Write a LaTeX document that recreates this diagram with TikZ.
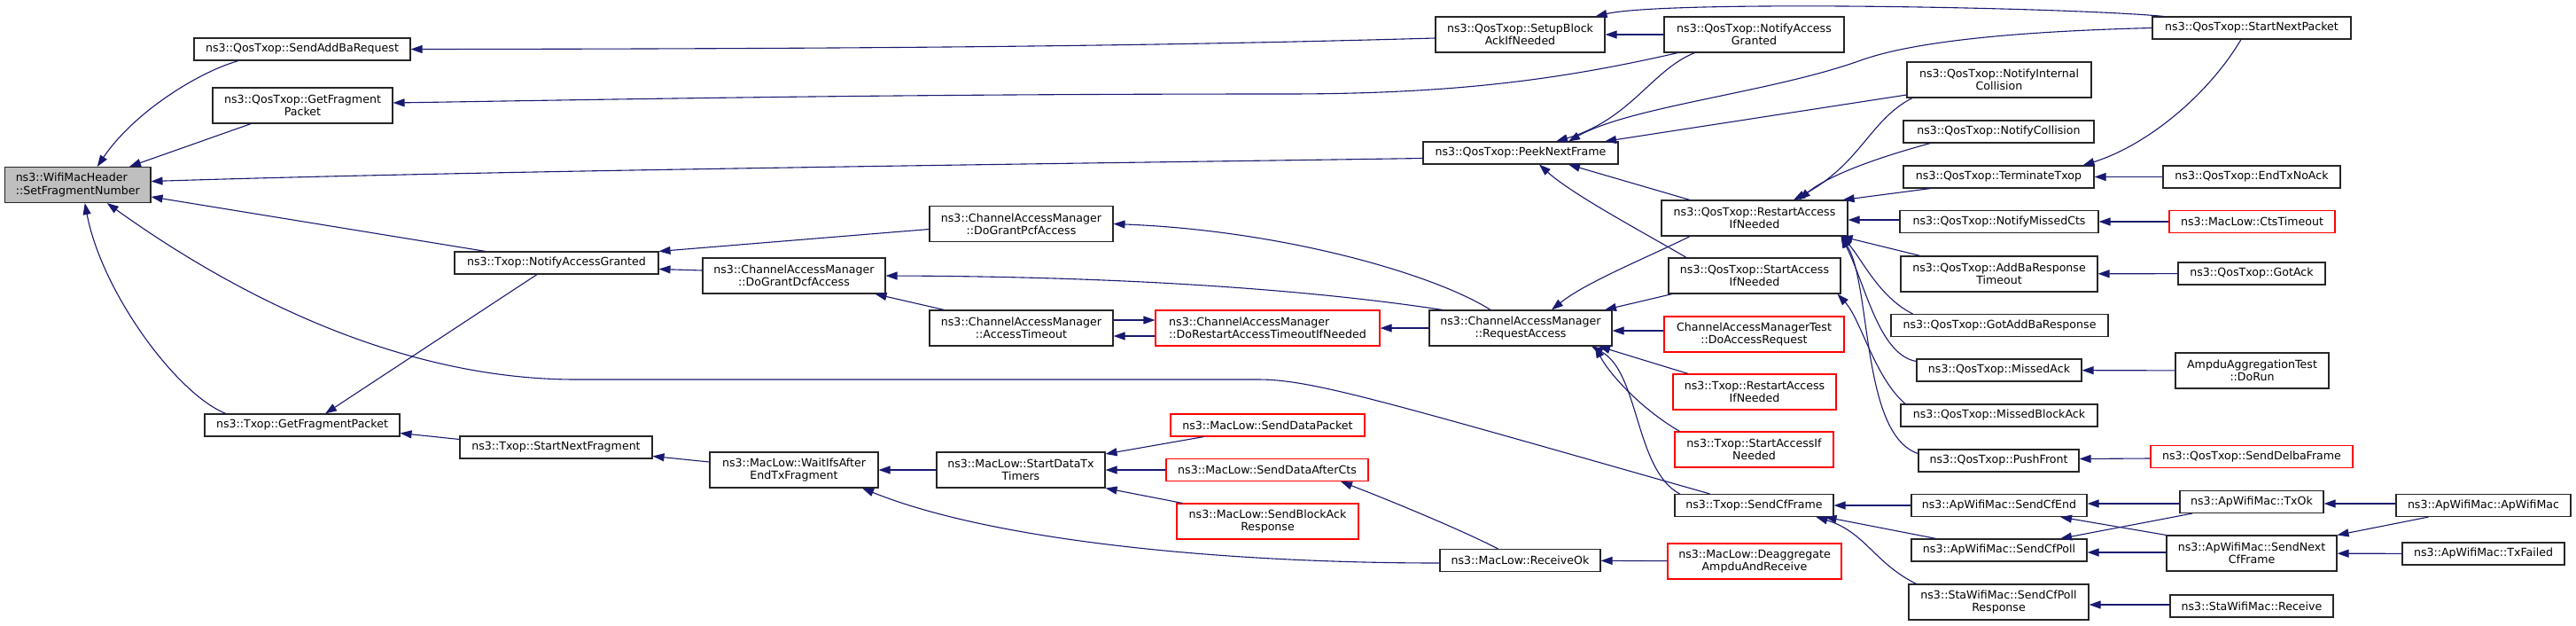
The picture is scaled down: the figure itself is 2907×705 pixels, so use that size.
\documentclass[tikz,border=0pt]{standalone}
\usepackage{fontspec}
\setmainfont{DejaVu Sans}
\usepackage{tikz}
\usetikzlibrary{arrows.meta,positioning}
\definecolor{edgeblue}{HTML}{191970}
\definecolor{rootgray}{HTML}{BFBFBF}
\tikzset{
  fnbox/.style={ draw=black!85, line width=1.1pt, fill=white, align=center, inner sep=0pt, minimum width=#1pt, font=\fontsize{12.6}{14.4}\selectfont }
}
\tikzset{
  fnred/.style={ fnbox=#1, draw=red }
}
\tikzset{
  fnroot/.style={ fnbox=#1, fill=rootgray, align=left }
}
\tikzset{
  oneline/.style={ minimum height=25pt },
  twoline/.style={ minimum height=40pt }
}
\tikzset{
  callarrow/.style={ draw=edgeblue, line width=1.1pt, -{Triangle[length=13pt, width=9pt]} }
}

\begin{document}
\begin{tikzpicture}[y=-1pt, x=1pt]
      \useasboundingbox (0, 0) rectangle (2907, 705);
      \node[fnroot=164.5, twoline] (sfn) at (87.75, 208.5) {ns3::WifiMacHeader\\::SetFragmentNumber};
      \node[fnbox=244, oneline] (sabr) at (341, 55.5) {ns3::QosTxop::SendAddBaRequest};
      \node[fnbox=203, twoline] (qgfp) at (341.5, 119) {ns3::QosTxop::GetFragment\\Packet};
      \node[fnbox=230, oneline] (tnag) at (628, 296.5) {ns3::Txop::NotifyAccessGranted};
      \node[fnbox=220, oneline] (tgfp) at (341, 479.5) {ns3::Txop::GetFragmentPacket};
      \node[fnbox=217, oneline] (tsnf) at (627.5, 504.5) {ns3::Txop::StartNextFragment};
      \node[fnbox=206, twoline] (dgdcf) at (896, 311) {ns3::ChannelAccessManager\\::DoGrantDcfAccess};
      \node[fnbox=207, twoline] (dgpcf) at (1152.5, 252.5) {ns3::ChannelAccessManager\\::DoGrantPcfAccess};
      \node[fnbox=207, twoline] (acto) at (1152.5, 370) {ns3::ChannelAccessManager\\::AccessTimeout};
      \node[fnred=253, twoline, align=left] (drat) at (1430.5, 370) {ns3::ChannelAccessManager\\::DoRestartAccessTimeoutIfNeeded};
      \node[fnbox=190, twoline] (wifs) at (896, 530) {ns3::MacLow::WaitIfsAfter\\EndTxFragment};
      \node[fnbox=190, twoline] (sdtt) at (1152, 530) {ns3::MacLow::StartDataTx\\Timers};
      \node[fnred=219, oneline] (sdp) at (1430.5, 479.5) {ns3::MacLow::SendDataPacket};
      \node[fnred=228, oneline] (sdac) at (1430, 530) {ns3::MacLow::SendDataAfterCts};
      \node[fnred=205, twoline] (sbar) at (1430.5, 588) {ns3::MacLow::SendBlockAck\\Response};
      \node[fnbox=191, twoline] (sbai) at (1715.5, 39) {ns3::QosTxop::SetupBlock\\AckIfNeeded};
      \node[fnbox=203, twoline] (qnag) at (1979.5, 39) {ns3::QosTxop::NotifyAccess\\Granted};
      \node[fnbox=220, oneline] (pnf) at (1716, 172.5) {ns3::QosTxop::PeekNextFrame};
      \node[fnbox=206, twoline] (rqa) at (1716, 370) {ns3::ChannelAccessManager\\::RequestAccess};
      \node[fnbox=181, oneline] (rcvok) at (1715.5, 632) {ns3::MacLow::ReceiveOk};
      \node[fnbox=210, twoline] (qraim) at (1980, 246) {ns3::QosTxop::RestartAccess\\IfNeeded};
      \node[fnbox=194, twoline] (qsaim) at (1980, 311) {ns3::QosTxop::StartAccess\\IfNeeded};
      \node[fnred=203, twoline] (dar) at (1979.5, 377) {ChannelAccessManagerTest\\::DoAccessRequest};
      \node[fnred=184, twoline] (traim) at (1980, 442) {ns3::Txop::RestartAccess\\IfNeeded};
      \node[fnred=179, twoline] (tsaim) at (1979.5, 507) {ns3::Txop::StartAccessIf\\Needed};
      \node[fnbox=179, oneline] (scf) at (1979.5, 570) {ns3::Txop::SendCfFrame};
      \node[fnred=196, twoline] (deag) at (1980, 633) {ns3::MacLow::Deaggregate\\AmpduAndReceive};
      \node[fnbox=208, twoline] (nic) at (2256, 90) {ns3::QosTxop::NotifyInternal\\Collision};
      \node[fnbox=215, oneline] (ncol) at (2255.5, 148.5) {ns3::QosTxop::NotifyCollision};
      \node[fnbox=215, oneline] (term) at (2255.5, 199.5) {ns3::QosTxop::TerminateTxop};
      \node[fnbox=224, oneline] (nmc) at (2256, 250) {ns3::QosTxop::NotifyMissedCts};
      \node[fnbox=222, twoline] (abrt) at (2256, 309) {ns3::QosTxop::AddBaResponse\\Timeout};
      \node[fnbox=245, oneline] (gabr) at (2256.5, 367) {ns3::QosTxop::GotAddBaResponse};
      \node[fnbox=186, oneline] (mack) at (2256, 417.5) {ns3::QosTxop::MissedAck};
      \node[fnbox=222, oneline] (mback) at (2256, 468.5) {ns3::QosTxop::MissedBlockAck};
      \node[fnbox=181, oneline] (pushf) at (2255.5, 519.5) {ns3::QosTxop::PushFront};
      \node[fnbox=198, oneline] (scfe) at (2256, 570) {ns3::ApWifiMac::SendCfEnd};
      \node[fnbox=198, oneline] (scfp) at (2256, 620.5) {ns3::ApWifiMac::SendCfPoll};
      \node[fnbox=203, twoline] (scfpr) at (2255.5, 679) {ns3::StaWifiMac::SendCfPoll\\Response};
      \node[fnbox=224, oneline] (snp) at (2541, 31.5) {ns3::QosTxop::StartNextPacket};
      \node[fnbox=200, oneline] (etna) at (2541, 199.5) {ns3::QosTxop::EndTxNoAck};
      \node[fnred=187, oneline] (ctst) at (2541.5, 250) {ns3::MacLow::CtsTimeout};
      \node[fnbox=166, oneline] (gack) at (2541, 308.5) {ns3::QosTxop::GotAck};
      \node[fnbox=173, twoline] (drun) at (2541.5, 418) {AmpduAggregationTest\\::DoRun};
      \node[fnred=228, oneline] (sdelba) at (2541, 515) {ns3::QosTxop::SendDelbaFrame};
      \node[fnbox=162, oneline] (txok) at (2541, 566) {ns3::ApWifiMac::TxOk};
      \node[fnbox=192, twoline] (sncf) at (2541, 624) {ns3::ApWifiMac::SendNext\\CfFrame};
      \node[fnbox=184, oneline] (starcv) at (2541, 683.5) {ns3::StaWifiMac::Receive};
      \node[fnbox=197, oneline] (apwm) at (2802.5, 570) {ns3::ApWifiMac::ApWifiMac};
      \node[fnbox=183, oneline] (txf) at (2802.5, 624.5) {ns3::ApWifiMac::TxFailed};
      % callers of SetFragmentNumber
      \draw[callarrow] ([xshift=-72pt]sabr.south) .. controls (222, 82) and (150, 128) .. ([xshift=22pt]sfn.north);
      \draw[callarrow] (qgfp) -- (sfn);
      \draw[callarrow] ([yshift=-6pt]pnf.west) .. controls (1250, 184) and (560, 192) .. ([yshift=4pt]sfn.east);
      \draw[callarrow] (tnag) -- (sfn);
      \draw[callarrow] ([xshift=-86pt]tgfp.north) .. controls (200, 445) and (115, 330) .. ([xshift=8pt]sfn.south);
      \draw[callarrow] ([xshift=-50pt]scf.north) .. controls (1560, 452) and (1480, 428) .. (1420, 428) -- (650, 428) .. controls (420, 428) and (220, 300) .. ([xshift=33pt]sfn.south);
      \draw[callarrow] ([yshift=-4pt]sbai.west) .. controls (1300, 52) and (1000, 55) .. (sabr.east);
      \draw[callarrow] ([xshift=-86pt]qnag.south) .. controls (1760, 90) and (1640, 106) .. (1450, 106) .. controls (1000, 106) and (700, 112) .. ([yshift=3pt]qgfp.east);
      \draw[callarrow] (qnag) -- (sbai);
      \draw[callarrow] ([xshift=-99pt]snp.north) .. controls (2330, 8) and (1880, 0) .. ([xshift=85pt]sbai.north);
      % PeekNextFrame
      \draw[callarrow] ([xshift=-67pt]qnag.south) .. controls (1865, 78) and (1840, 135) .. ([xshift=40pt]pnf.north);
      \draw[callarrow] (snp.west) .. controls (2250, 36) and (2150, 50) .. (2100, 68) .. controls (2000, 104) and (1840, 120) .. ([xshift=54pt]pnf.north);
      \draw[callarrow] ([yshift=-17pt]nic.west) -- ([xshift=95pt]pnf.north);
      \draw[callarrow] ([xshift=-73pt]qraim.north) -- ([xshift=54pt]pnf.south);
      \draw[callarrow] ([xshift=-77pt]qsaim.north) .. controls (1860, 265) and (1775, 220) .. ([xshift=21pt]pnf.south);
      % RequestAccess
      \draw[callarrow] ([xshift=-73pt]qraim.south) .. controls (1860, 290) and (1790, 318) .. ([xshift=35pt]rqa.north);
      \draw[callarrow] ([xshift=-93pt]qsaim.south) -- ([xshift=95pt]rqa.north);
      \draw[callarrow] ([yshift=4pt]dar.west) -- ([yshift=-3pt]rqa.east);
      \draw[callarrow] ([xshift=-75pt]traim.north) -- ([xshift=88pt]rqa.south);
      \draw[callarrow] ([xshift=-84pt]tsaim.north) .. controls (1850, 460) and (1815, 420) .. ([xshift=84pt]rqa.south);
      \draw[callarrow] ([xshift=-84pt]scf.north) .. controls (1845, 530) and (1850, 420) .. ([xshift=80pt]rqa.south);
      % RestartAccessIfNeeded
      \draw[callarrow] ([xshift=-98pt]nic.south) .. controls (2110, 135) and (2100, 185) .. ([xshift=44pt]qraim.north);
      \draw[callarrow] ([xshift=-77pt]ncol.south) .. controls (2110, 180) and (2060, 200) .. ([xshift=50pt]qraim.north);
      \draw[callarrow] ([xshift=-77pt]term.south) -- ([xshift=-6pt]qraim.north east);
      \draw[callarrow] ([yshift=2pt]nmc.west) -- ([yshift=-2pt]qraim.east);
      \draw[callarrow] ([xshift=-89pt]abrt.north) -- ([xshift=-8pt]qraim.south east);
      \draw[callarrow] ([xshift=-98pt]gabr.north) .. controls (2120, 335) and (2100, 290) .. ([xshift=-8pt]qraim.south east);
      \draw[callarrow] ([yshift=10pt]mack.west) .. controls (2120, 400) and (2105, 320) .. ([xshift=-8pt]qraim.south east);
      \draw[callarrow] ([yshift=8pt]pushf.west) .. controls (2100, 490) and (2112, 320) .. ([xshift=-8pt]qraim.south east);
      \draw[callarrow] ([xshift=-106pt]mback.north) .. controls (2115, 425) and (2100, 360) .. ([xshift=-4pt]qsaim.south east);
      \draw[callarrow] ([xshift=-12pt]snp.south) .. controls (2490, 110) and (2420, 165) .. ([xshift=95pt]term.north);
      \draw[callarrow] (etna) -- (term);
      \draw[callarrow] (ctst) -- (nmc);
      \draw[callarrow] (gack) -- (abrt);
      \draw[callarrow] (drun) -- (mack);
      \draw[callarrow] ([yshift=-2pt]sdelba.west) -- ([yshift=2pt]pushf.east);
      % SendCfFrame
      \draw[callarrow] (scfe) -- (scf);
      \draw[callarrow] ([xshift=-71pt]scfp.north) -- ([xshift=80pt]scf.south);
      \draw[callarrow] ([xshift=-93pt]scfpr.north) .. controls (2115, 635) and (2105, 600) .. ([xshift=70pt]scf.south);
      \draw[callarrow] ([yshift=-2pt]txok.west) -- ([yshift=2pt]scfe.east);
      \draw[callarrow] (sncf.north west) -- ([xshift=69pt]scfe.south);
      \draw[callarrow] ([xshift=-67pt]txok.south) -- ([xshift=69pt]scfp.north);
      \draw[callarrow] ([yshift=1pt]sncf.west) -- ([yshift=-2.5pt]scfp.east);
      \draw[callarrow] ([yshift=2pt]apwm.west) -- ([yshift=-2pt]txok.east);
      \draw[callarrow] ([xshift=-62pt]apwm.south) -- (sncf.north east);
      \draw[callarrow] (txf) -- (sncf);
      \draw[callarrow] ([yshift=1.5pt]starcv.west) -- ([yshift=-3pt]scfpr.east);
      % Txop and ChannelAccessManager
      \draw[callarrow] ([xshift=-22pt]tnag.south) -- ([xshift=26pt]tgfp.north);
      \draw[callarrow] ([yshift=-6pt]dgpcf.west) -- (tnag.north east);
      \draw[callarrow] ([yshift=6pt]dgdcf.west) -- ([yshift=-7pt]tnag.east);
      \draw[callarrow] ([xshift=-34pt]rqa.north) .. controls (1620, 310) and (1450, 260) .. (dgpcf.east);
      \draw[callarrow] ([xshift=-88pt]rqa.north) .. controls (1500, 330) and (1300, 312) .. (dgdcf.east);
      \draw[callarrow] ([xshift=-87pt]acto.north) -- ([xshift=-12pt]dgdcf.south east);
      \draw[callarrow] ([yshift=9pt]acto.east) -- ([yshift=9pt]drat.west);
      \draw[callarrow] ([yshift=-9pt]drat.west) -- ([yshift=-9pt]acto.east);
      \draw[callarrow] (rqa) -- (drat);
      % MacLow
      \draw[callarrow] ([yshift=9pt]tsnf.west) -- ([yshift=-9pt]tgfp.east);
      \draw[callarrow] ([yshift=9pt]wifs.west) -- ([yshift=-10pt]tsnf.east);
      \draw[callarrow] (sdtt) -- (wifs);
      \draw[callarrow] ([yshift=-3pt]rcvok.west) .. controls (1380, 635) and (1120, 610) .. ([xshift=77pt]wifs.south);
      \draw[callarrow] ([xshift=-72pt]sdp.south) -- ([yshift=18pt]sdtt.east);
      \draw[callarrow] (sdac) -- (sdtt);
      \draw[callarrow] ([xshift=-96pt]sbar.north) -- (sdtt.south east);
      \draw[callarrow] ([xshift=-25pt]rcvok.north) .. controls (1650, 598) and (1570, 565) .. ([xshift=83pt]sdac.south);
      \draw[callarrow] (deag) -- (rcvok);
    \end{tikzpicture}
\end{document}
